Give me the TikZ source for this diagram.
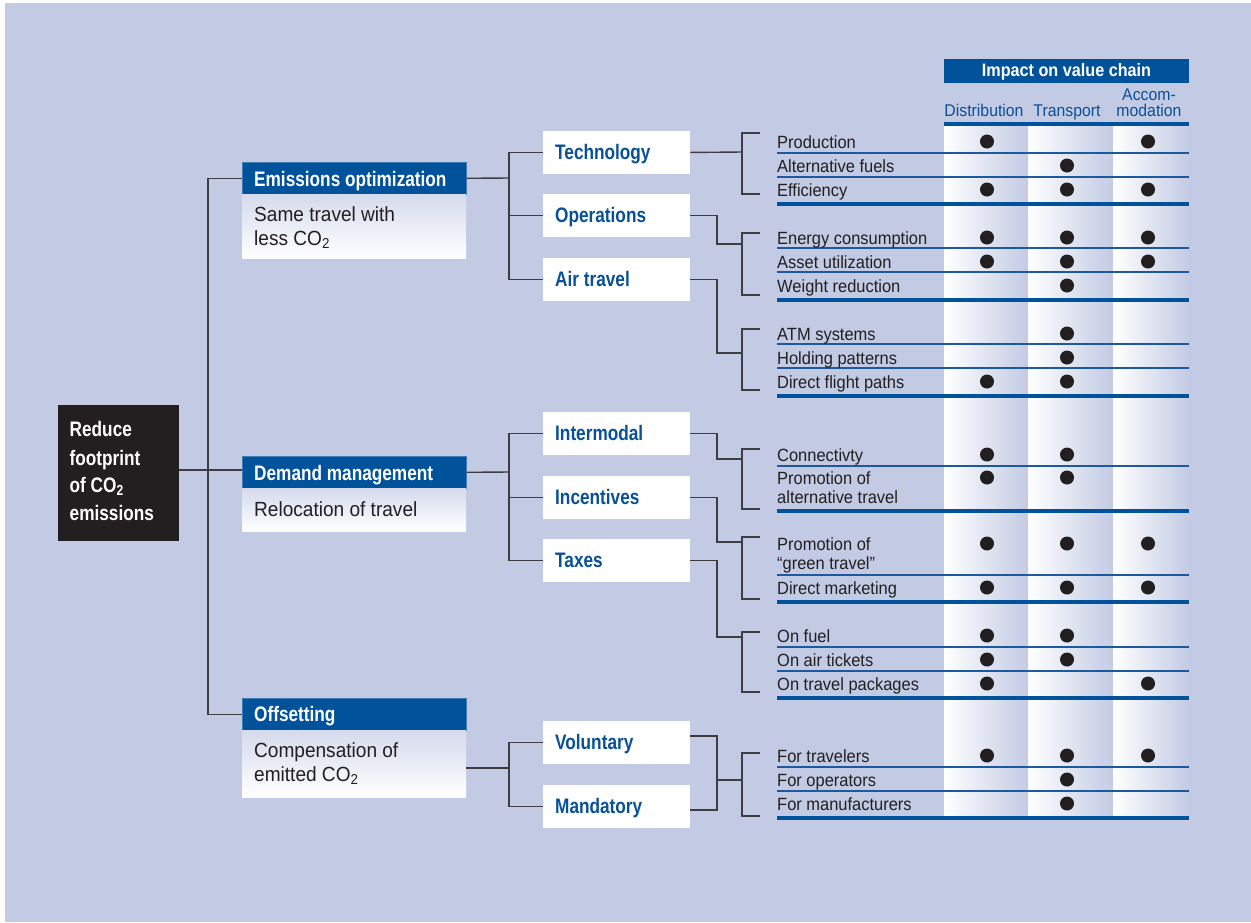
\documentclass[tikz,border=0pt]{standalone}
\usepackage{fontspec}
\setmainfont{Liberation Sans}[FakeStretch=0.93]
\newfontfamily\cnd{Liberation Sans}[FakeStretch=0.82]
\newfontfamily\hdrf{Liberation Sans}[FakeStretch=0.9]
\definecolor{bgc}{RGB}{195,203,228}
\definecolor{hblue}{RGB}{0,82,155}
\definecolor{tblue}{RGB}{8,80,152}
\definecolor{sepblue}{RGB}{30,88,158}
\definecolor{linegray}{RGB}{62,62,66}
\definecolor{darkc}{RGB}{35,31,32}
\newcommand\mybrack[3]{\draw[conn] (760,#2) -- (#1,#2) -- (#1,#3) -- (760,#3);}
\begin{document}
\begin{tikzpicture}[x=1pt,y=-1pt,
  conn/.style={draw=linegray, line width=1.4pt},
  l1head/.style={rectangle, fill=hblue, draw=hblue!75!white, line width=0.6pt, anchor=north west, minimum width=224pt, minimum height=32pt, inner sep=0pt},
  l1sub/.style={rectangle, top color=bgc!70!white, bottom color=white, anchor=north west, minimum width=224pt, inner sep=0pt},
  l2box/.style={rectangle, fill=white, anchor=north west, minimum width=147pt, minimum height=42.5pt, inner sep=0pt},
  l1txt/.style={anchor=base west, text=white, font=\cnd\bfseries\fontsize{21}{21}\selectfont, inner sep=0pt},
  l2txt/.style={anchor=base west, text=tblue, font=\cnd\bfseries\fontsize{21}{21}\selectfont, inner sep=0pt},
  subtxt/.style={anchor=base west, text=darkc, font=\fontsize{20.5}{20.5}\selectfont, inner sep=0pt},
  rowtxt/.style={anchor=base west, text=darkc, font=\fontsize{17.7}{17.7}\selectfont, inner sep=0pt},
  colhd/.style={anchor=base, text=tblue, font=\fontsize{17}{17}\selectfont, inner sep=0pt},
  thinsep/.style={draw=sepblue, line width=1.3pt},
  thicksep/.style={draw=hblue, line width=4pt},
  dot/.style={circle, fill=darkc, minimum size=14pt, inner sep=0pt}
]
% page and background
\useasboundingbox (0,0) rectangle (1251,922);
\fill[white] (0,0) rectangle (1251,922);
\fill[bgc] (5,3) rectangle (1251,922);

% columns
\shade[left color=white, right color=bgc] (944,124) rectangle (1028,818);
\shade[left color=white, right color=bgc] (1028,124) rectangle (1113,818);
\shade[left color=white, right color=bgc] (1113,124) rectangle (1189,818);

% header
\node[rectangle, fill=hblue, anchor=north west, minimum width=245pt, minimum height=24pt, inner sep=0pt] (hdr) at (944,58.5) {};
\node[anchor=base, text=white, font=\hdrf\bfseries\fontsize{18}{18}\selectfont, inner sep=0pt] (hdrtxt) at (1066.5,76.7) {Impact on value chain};
\node[colhd] (chD) at (984,116.7) {Distribution};
\node[colhd] (chT) at (1067,116.7) {Transport};
\node[colhd] (chA1) at (1149,100.5) {Accom-};
\node[colhd] (chA2) at (1149,116.7) {modation};
\draw[thicksep] (944,124) -- (1189,124);

% separators
\foreach \y in {153,177,248,272,344,368,466,575,647,671,767,791}
  \draw[thinsep] (777,\y) -- (1189,\y);
\foreach \y in {204,300,396,511,602,698,818}
  \draw[thicksep] (777,\y) -- (1189,\y);

% row texts
\foreach \n/\y/\t in {prod/148/Production, altf/172/Alternative fuels, effi/196/Efficiency,
  ener/244/Energy consumption, asset/268/Asset utilization, weight/292/Weight reduction,
  atm/340/ATM systems, hold/364/Holding patterns, dfp/388/Direct flight paths,
  conn/461/Connectivty, proma/484/Promotion of, promb/503/alternative travel,
  promga/550/Promotion of, promgb/569/“green travel”, dmkt/594/Direct marketing,
  fuel/642/On fuel, airtk/666/On air tickets, pkgs/690/On travel packages,
  ftrav/762/For travelers, fops/786/For operators, fman/810/For manufacturers}
  \node[rowtxt] (r-\n) at (777,\y) {\t};

% dots
\foreach \y/\cols [count=\i] in {141.5/{987,1148}, 165.5/{1067}, 189.5/{987,1067,1148},
  237.5/{987,1067,1148}, 261.5/{987,1067,1148}, 285.5/{1067},
  333.5/{1067}, 357.5/{1067}, 381.5/{987,1067},
  454.5/{987,1067}, 477.5/{987,1067},
  543.5/{987,1067,1148}, 587.5/{987,1067,1148},
  635.5/{987,1067}, 659.5/{987,1067}, 683.5/{987,1148},
  755.5/{987,1067,1148}, 779.5/{1067}, 803.5/{1067}}
  { \foreach \x [count=\j] in \cols { \node[dot] (dot-\i-\j) at (\x,\y) {}; } }

% root
\node[rectangle, fill=darkc, anchor=north west, minimum width=120.5pt, minimum height=135.5pt, inner sep=0pt] (root) at (58,405) {};
\node[l1txt] (rt1) at (69.5,436.7) {Reduce};
\node[l1txt] (rt2) at (69.5,465) {footprint};
\node[l1txt] (rt3) at (69.5,492.7) {of CO\textsubscript{2}};
\node[l1txt] (rt4) at (69.5,520) {emissions};

% level 1
\node[l1head] (eoH) at (242,162) {};
\node[l1sub, minimum height=64pt] (eoS) at (242,194) {};
\node[l1txt] (eoT) at (254,186.7) {Emissions optimization};
\node[subtxt] (eoS1) at (254,221) {Same travel with};
\node[subtxt] (eoS2) at (254,245.5) {less CO\textsubscript{2}};

\node[l1head] (dmH) at (242,456) {};
\node[l1sub, minimum height=43pt] (dmS) at (242,488) {};
\node[l1txt] (dmT) at (254,480.7) {Demand management};
\node[subtxt] (dmS1) at (254,516) {Relocation of travel};

\node[l1head] (ofH) at (242,698) {};
\node[l1sub, minimum height=67pt] (ofS) at (242,730) {};
\node[l1txt] (ofT) at (254,721.7) {Offsetting};
\node[subtxt] (ofS1) at (254,757.3) {Compensation of};
\node[subtxt] (ofS2) at (254,781.7) {emitted CO\textsubscript{2}};

% level 2
\foreach \n/\y/\t in {tech/131/Technology, ops/194/Operations, airt/258/Air travel,
  inter/412/Intermodal, incen/476/Incentives, taxes/539/Taxes,
  vol/721/Voluntary, mand/785/Mandatory}
{ \node[l2box] (\n) at (543,\y) {};
  \node[l2txt] (\n-t) at (555,\y+28.3) {\t}; }

% connectors root -> level 1
\coordinate (spine) at (208,470);
\draw[conn] (eoH.west) -| (spine) |- (ofH.west);
\draw[conn] (root.east |- spine) -- (dmH.west |- spine);

% level 1 -> level 2
\coordinate (j1) at (509,178);
\draw[conn] (eoH.east) -- (j1);
\draw[conn] (tech.west) -| (j1) |- (airt.west);
\draw[conn] (ops.west) -- (ops.west -| j1);

\coordinate (j2) at (509,472);
\draw[conn] (dmH.east) -- (j2);
\draw[conn] (inter.west) -| (j2) |- (taxes.west);
\draw[conn] (incen.west) -- (incen.west -| j2);

\coordinate (j3) at (509,768);
\draw[conn] (ofS.east |- j3) -- (j3);
\draw[conn] (vol.west) -| (j3) |- (mand.west);

% level 2 -> level 3
\coordinate (k1) at (742,152);
\draw[conn] (tech.east) -- (k1);
\mybrack{742}{133}{194}

\coordinate (e2) at (717,244); \coordinate (k2) at (742,244);
\draw[conn] (ops.east) -| (e2) -- (k2);
\mybrack{742}{233}{295}

\coordinate (e3) at (717,353); \coordinate (k3) at (742,353);
\draw[conn] (airt.east) -| (e3) -- (k3);
\mybrack{742}{329}{390}

\coordinate (e4) at (717,459); \coordinate (k4) at (742,459);
\draw[conn] (inter.east) -| (e4) -- (k4);
\mybrack{742}{449}{509}

\coordinate (e5) at (717,542); \coordinate (k5) at (742,542);
\draw[conn] (incen.east) -| (e5) -- (k5);
\mybrack{742}{537}{599}

\coordinate (e6) at (717,637); \coordinate (k6) at (742,637);
\draw[conn] (taxes.east) -| (e6) -- (k6);
\mybrack{742}{632}{692}

\coordinate (v7) at (717,736); \coordinate (m7) at (717,810);
\coordinate (e7) at (717,780); \coordinate (k7) at (742,780);
\draw[conn] (vol.east |- v7) -- (v7) -- (m7) -- (mand.east |- m7);
\draw[conn] (e7) -- (k7);
\mybrack{742}{753}{816}
\end{tikzpicture}
\end{document}
